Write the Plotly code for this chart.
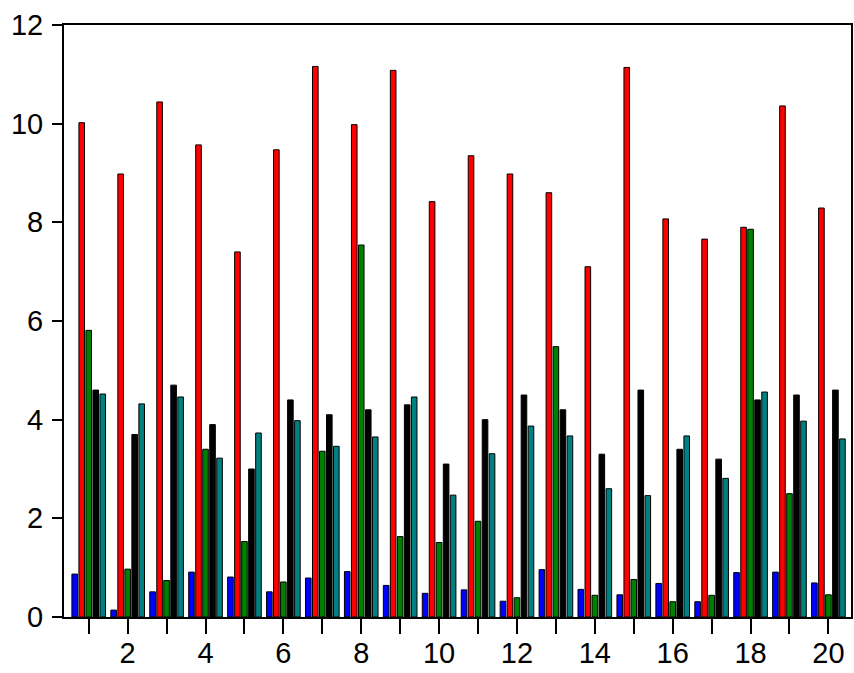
import plotly.graph_objects as go

groups = list(range(1, 21))
blue_vals = [0.87, 0.14, 0.51, 0.91, 0.81, 0.51, 0.79, 0.92, 0.64, 0.48,
             0.55, 0.32, 0.96, 0.56, 0.45, 0.68, 0.31, 0.90, 0.91, 0.69]
red_vals = [10.02, 8.98, 10.44, 9.57, 7.40, 9.47, 11.16, 9.98, 11.08, 8.42,
            9.35, 8.98, 8.60, 7.10, 11.14, 8.07, 7.66, 7.90, 10.36, 8.29]
green_vals = [5.81, 0.97, 0.74, 3.40, 1.53, 0.71, 3.36, 7.54, 1.63, 1.51,
              1.94, 0.39, 5.48, 0.44, 0.76, 0.31, 0.44, 7.86, 2.50, 0.45]
black_vals = [4.6, 3.7, 4.7, 3.9, 3.0, 4.4, 4.1, 4.2, 4.3, 3.1,
              4.0, 4.5, 4.2, 3.3, 4.6, 3.4, 3.2, 4.4, 4.5, 4.6]
teal_vals = [4.52, 4.32, 4.46, 3.22, 3.73, 3.98, 3.46, 3.65, 4.46, 2.47,
             3.31, 3.87, 3.67, 2.60, 2.46, 3.67, 2.81, 4.56, 3.97, 3.61]
tick_labels = [str(g) if g % 2 == 0 else "" for g in groups]

series = [
    ("Series 1", blue_vals, "#0000FF"),
    ("Series 2", red_vals, "#FF0000"),
    ("Series 3", green_vals, "#008000"),
    ("Series 4", black_vals, "#000000"),
    ("Series 5", teal_vals, "#008080"),
]

x_range = [0.365, 20.58]

fig = go.Figure()
for name, vals, color in series:
    fig.add_trace(go.Bar(
        x=groups, y=vals, name=name,
        marker=dict(color=color, line=dict(color="#000000", width=1)),
    ))

# invisible helper trace so the label axis (x2) is drawn
fig.add_trace(go.Scatter(
    x=groups, y=blue_vals, xaxis="x2", mode="markers",
    marker=dict(opacity=0), hoverinfo="skip", showlegend=False,
))

fig.update_layout(
    width=854, height=673,
    barmode="group", bargap=0.1, bargroupgap=0.2,
    showlegend=False,
    plot_bgcolor="white", paper_bgcolor="white",
    margin=dict(l=64, r=1, t=25, b=56),
    font=dict(family="Liberation Sans, Arial, sans-serif", size=29, color="black"),
    xaxis=dict(
        range=x_range,
        tickmode="array", tickvals=groups,
        ticks="outside", ticklen=15, tickwidth=2, tickcolor="black",
        showticklabels=False,
        showline=True, linewidth=2, linecolor="black", mirror=True,
        showgrid=False, zeroline=False,
    ),
    xaxis2=dict(
        overlaying="x", anchor="y", side="bottom",
        range=x_range,
        tickmode="array", tickvals=groups, ticktext=tick_labels,
        ticks="outside", ticklen=10, tickwidth=2, tickcolor="rgba(0,0,0,0)",
        tickfont=dict(size=29),
        showline=False, showgrid=False, zeroline=False,
    ),
    yaxis=dict(
        range=[0, 12], dtick=2, tick0=0,
        ticks="outside", ticklen=10, tickwidth=2, tickcolor="black",
        tickfont=dict(size=29), ticklabelstandoff=3,
        showline=True, linewidth=2, linecolor="black", mirror=True,
        showgrid=False, zeroline=False,
    ),
)

fig.write_html("out.html", config={"displayModeBar": False},
               post_script="document.body.style.margin='0';")
